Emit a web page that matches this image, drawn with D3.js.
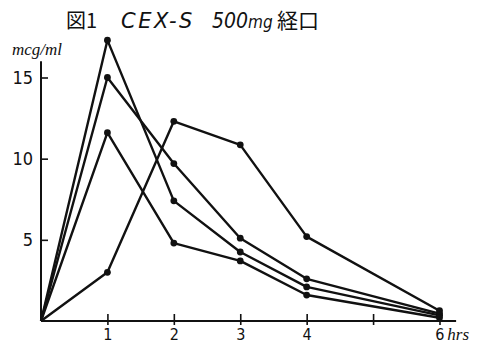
<!DOCTYPE html>
<html>
<head>
<meta charset="utf-8">
<script src="https://cdn.jsdelivr.net/npm/d3@7"></script>
<style>
  body { margin: 0; background: #fff; }
  svg { display: block; }
</style>
</head>
<body>
<div id="chart"></div>
<script>
// hours after oral dose
var hours = [0, 1, 2, 3, 4, 6];
// serum levels, mcg/ml, one array per subject
var subjectA = [0, 17.3, 7.4, 4.25, 2.1, 0.35];
var subjectB = [0, 15.0, 9.7, 5.1, 2.6, 0.45];
var subjectC = [0, 11.6, 4.8, 3.7, 1.6, 0.2];
var subjectD = [0, 3.0, 12.3, 10.85, 5.2, 0.63];
var yTicks = [5, 10, 15];
var xTicks = [1, 2, 3, 4, 5, 6];
var xTickLabels = ["1", "2", "3", "4", "", "6"];

var w = 479,
    h = 345;

var svg = d3.select("#chart").append("svg")
    .attr("width", w)
    .attr("height", h);

var x = d3.scaleLinear().domain([0, 6]).range([41, 439.5]);
var y = d3.scaleLinear().domain([0, 15]).range([321, 77.5]);

var numFont = "'DejaVu Sans Condensed', 'DejaVu Sans', sans-serif";

// title
var title = svg.append("text")
    .attr("y", 28)
    .style("font-size", "20px")
    .style("font-family", "'Noto Sans CJK JP', sans-serif")
    .attr("fill", "#111");
title.append("tspan").attr("x", 66).text("図1");
title.append("tspan").attr("x", 121).style("font-style", "italic")
    .style("font-family", "'DejaVu Sans', sans-serif").style("font-size", "21px")
    .style("letter-spacing", "2.5px").text("CEX-S");
title.append("tspan").attr("x", 212).style("font-style", "italic")
    .style("font-family", "'DejaVu Sans Condensed', sans-serif").style("font-size", "21px").text("500");
title.append("tspan").style("font-style", "italic")
    .style("font-family", "'DejaVu Sans Condensed', sans-serif").style("font-size", "17px").text("mg");
title.append("tspan").attr("x", 277).style("font-size", "21px").text("経口");

// unit label
svg.append("text")
    .attr("x", 12)
    .attr("y", 55)
    .style("font-size", "17px")
    .style("font-style", "italic")
    .style("font-family", "'Liberation Serif', serif")
    .attr("fill", "#111")
    .text("mcg/ml");

// y axis
var yAxis = svg.append("g")
    .attr("transform", "translate(" + x(0) + ",0)")
    .call(d3.axisLeft(y).tickValues(yTicks).tickSizeInner(-7).tickSizeOuter(0).tickPadding(8));
yAxis.select(".domain").remove();
yAxis.selectAll("line").attr("stroke", "#111").attr("stroke-width", 1.6);
yAxis.selectAll("text")
    .style("font-size", "18px")
    .style("font-family", numFont)
    .attr("fill", "#111");
svg.append("line")
    .attr("x1", x(0)).attr("x2", x(0))
    .attr("y1", y(0)).attr("y2", y(16))
    .attr("stroke", "#111").attr("stroke-width", 2);

// x axis
var xAxis = svg.append("g")
    .attr("transform", "translate(0," + y(0) + ")")
    .call(d3.axisBottom(x).tickValues(xTicks).tickSizeInner(4).tickSizeOuter(0).tickPadding(4)
        .tickFormat(function(d, i) { return xTickLabels[i]; }));
xAxis.select(".domain").remove();
xAxis.selectAll("line").attr("y1", -7).attr("stroke", "#111").attr("stroke-width", 1.6);
xAxis.selectAll("text")
    .style("font-size", "16px")
    .style("font-family", numFont)
    .attr("fill", "#111");
xAxis.selectAll(".tick").filter(function(d) { return d == 6; }).select("text")
    .attr("text-anchor", "start")
    .attr("dx", "-0.3em")
    .append("tspan")
    .attr("dx", 3)
    .style("font-style", "italic")
    .style("font-family", "'Liberation Serif', serif")
    .style("font-size", "17px")
    .text("hrs");
svg.append("line")
    .attr("x1", x(0)).attr("x2", x(6.25))
    .attr("y1", y(0)).attr("y2", y(0))
    .attr("stroke", "#111").attr("stroke-width", 2);

// curves
var series = [subjectA, subjectB, subjectC, subjectD];
var line = d3.line()
    .x(function(d, i) { return x(hours[i]); })
    .y(function(d) { return y(d); });

series.forEach(function(vals) {
    svg.append("path")
        .datum(vals)
        .attr("d", line)
        .attr("fill", "none")
        .attr("stroke", "#111")
        .attr("stroke-width", 2.4)
        .attr("stroke-linejoin", "round");
    svg.append("g").selectAll("circle")
        .data(vals.slice(1))
        .enter().append("circle")
        .attr("cx", function(d, i) { return x(hours[i + 1]); })
        .attr("cy", function(d) { return y(d); })
        .attr("r", 3.4)
        .attr("fill", "#111");
});
</script>
</body>
</html>
